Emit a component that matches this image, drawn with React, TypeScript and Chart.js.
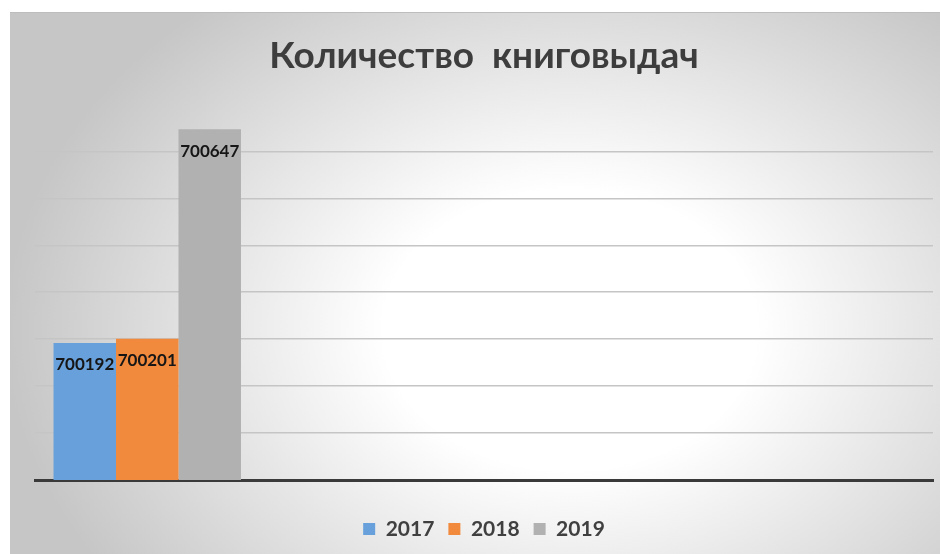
import React, { useEffect, useRef } from 'react';
import { Chart, registerables } from 'chart.js';

Chart.register(...registerables);

// ---- data ----
const categories = ['', '', '', ''];
const seriesNames = ['2017', '2018', '2019'];
const values2017 = [700192, null, null, null];
const values2018 = [700201, null, null, null];
const values2019 = [700647, null, null, null];
const yMin = 699900;
const yMax = 700700;
const yStep = 100;
const chartTitle = 'Количество  книговыдач';

const seriesValues = [values2017, values2018, values2019];
const seriesColors = ['#67A0DA', '#F28A3D', '#B1B1B1'];

const backgroundPlugin = {
  id: 'bgPanel',
  beforeDraw(chart: any) {
    const { ctx, width, height } = chart;
    ctx.save();
    ctx.fillStyle = '#ffffff';
    ctx.fillRect(0, 0, width, height);
    const x0 = 10, y0 = 12;
    ctx.beginPath();
    ctx.rect(x0, y0, width - x0, height - y0);
    ctx.clip();
    const cx = 570, cy = 330;
    ctx.translate(cx, cy);
    ctx.scale(1, 0.75);
    const g = ctx.createRadialGradient(0, 0, 0, 0, 0, 565);
    g.addColorStop(0, '#ffffff');
    g.addColorStop(0.33, '#ffffff');
    g.addColorStop(1, '#c6c6c6');
    ctx.fillStyle = g;
    ctx.fillRect(-cx - 10, -cy / 0.75 - 10, width + 20, height / 0.75 + 20);
    ctx.restore();
    ctx.save();
    ctx.strokeStyle = '#bdbdbd';
    ctx.lineWidth = 1;
    ctx.beginPath();
    ctx.moveTo(x0, y0 + 0.5);
    ctx.lineTo(width, y0 + 0.5);
    ctx.stroke();
    ctx.restore();
  },
};

const valueLabelPlugin = {
  id: 'valueLabels',
  afterDatasetsDraw(chart: any) {
    const ctx = chart.ctx;
    ctx.save();
    ctx.font = 'bold 17px Lato';
    ctx.fillStyle = '#161616';
    ctx.textAlign = 'center';
    ctx.textBaseline = 'middle';
    chart.data.datasets.forEach((ds: any, i: number) => {
      const meta = chart.getDatasetMeta(i);
      meta.data.forEach((el: any, j: number) => {
        const v = ds.data[j];
        if (v == null) return;
        ctx.fillText(String(v), el.x, el.y + 22);
      });
    });
    ctx.restore();
  },
};

export default function App() {
  const canvasRef = useRef<HTMLCanvasElement | null>(null);

  useEffect(() => {
    if (!canvasRef.current) return;
    const chart = new Chart(canvasRef.current, {
      type: 'bar',
      data: {
        labels: categories,
        datasets: seriesNames.map((name, i) => ({
          label: name,
          data: seriesValues[i],
          backgroundColor: seriesColors[i],
          borderWidth: 0,
          categoryPercentage: 0.835,
          barPercentage: 1,
        })),
      },
      options: {
        responsive: false,
        animation: false,
        layout: { padding: { left: 35, right: 7, top: 12, bottom: 4.5 } },
        plugins: {
          title: {
            display: true,
            text: chartTitle,
            color: '#3d3d3d',
            font: { family: 'Lato', size: 37, weight: 'bold' },
            padding: { top: 22, bottom: 26 },
          },
          legend: {
            display: true,
            position: 'bottom',
            labels: {
              color: '#404040',
              font: { family: 'Lato', size: 21, weight: 'bold' },
              boxWidth: 12,
              boxHeight: 12,
              padding: 14,
            },
          },
          tooltip: { enabled: false },
        },
        scales: {
          x: {
            z: 1,
            grid: { display: false, drawTicks: true, tickLength: 24.5 },
            ticks: { display: false },
            border: { display: true, color: '#3a3a3a', width: 3 },
          },
          y: {
            min: yMin,
            max: yMax,
            ticks: { display: false, stepSize: yStep },
            border: { display: false },
            grid: {
              drawTicks: false,
              color: (c: any) =>
                c.tick && (c.tick.value === yMin || c.tick.value === yMax)
                  ? 'rgba(0,0,0,0)'
                  : '#c5c5c5',
              lineWidth: 1.5,
            },
          },
        },
      },
      plugins: [backgroundPlugin, valueLabelPlugin],
    });
    return () => chart.destroy();
  }, []);

  return (
    <div style={{ position: 'absolute', left: 0, top: 0, width: 940, height: 554 }}>
      <canvas ref={canvasRef} width={940} height={554} style={{ display: 'block' }} />
    </div>
  );
}
